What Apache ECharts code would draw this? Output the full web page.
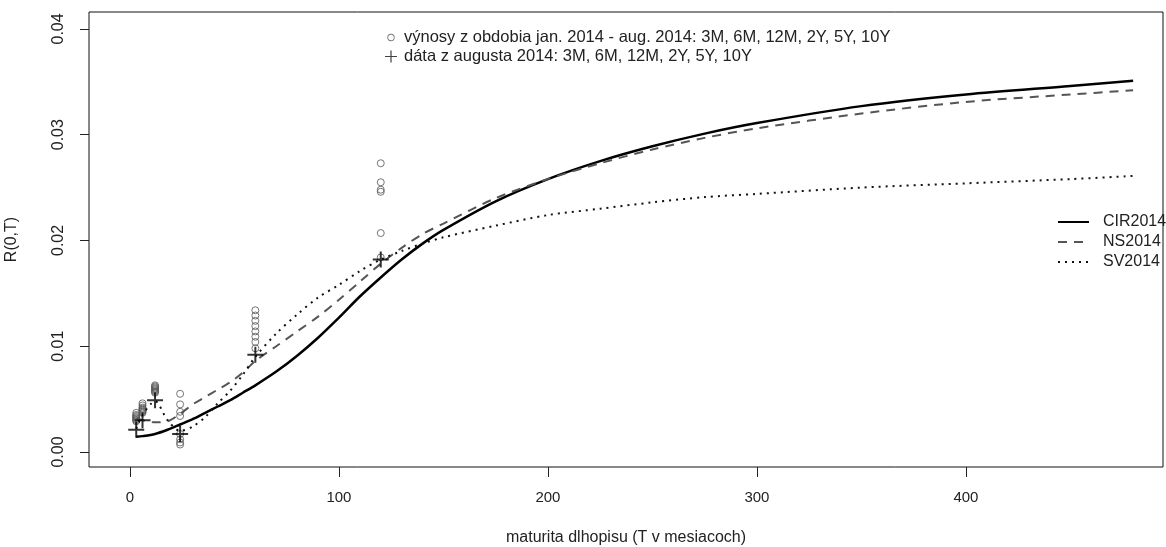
<!DOCTYPE html>
<html>
<head>
<meta charset="utf-8">
<script src="https://cdn.jsdelivr.net/npm/echarts@6/dist/echarts.min.js"></script>
<style>
  html, body { margin: 0; padding: 0; background: #fff; }
  #chart0 { width: 1166px; height: 547px; }
</style>
</head>
<body>
<div id="chart0"></div>
<script>
// maturities (months) and observed yields
var obsT = [3, 6, 12, 24, 60, 120]
var yields3M = [0.0037, 0.0035, 0.0034, 0.0033, 0.0032, 0.0031, 0.0030, 0.0029]
var yields6M = [0.0046, 0.0044, 0.0042, 0.0041, 0.0040, 0.0039, 0.0038, 0.0037]
var yields12M = [0.0063, 0.0062, 0.0061, 0.0060, 0.0059, 0.0058, 0.0057, 0.0056]
var yields2Y = [0.0055, 0.0045, 0.0038, 0.0034, 0.0017, 0.0012, 0.0009, 0.0007]
var yields5Y = [0.0134, 0.0129, 0.0124, 0.0119, 0.0114, 0.0109, 0.0104, 0.0098]
var yields10Y = [0.0273, 0.0255, 0.0248, 0.0246, 0.0207, 0.0184]
var augYields = [0.0021, 0.0030, 0.0049, 0.0017, 0.0092, 0.0182]

// fitted curves
var curveT = [3, 6, 12, 18, 24, 30, 36, 42, 48, 54, 60, 70, 80, 90, 100, 110, 120, 130, 140, 150, 175, 200, 225, 250, 275, 300, 350, 400, 450, 480]
var cir2014 = [0.00145, 0.0015, 0.0017, 0.0021, 0.0026, 0.0031, 0.0037, 0.0043, 0.0049, 0.0056, 0.0063, 0.0076, 0.0091, 0.0108, 0.0127, 0.0147, 0.0165, 0.0182, 0.0197, 0.0210, 0.0237, 0.0258, 0.0275, 0.0289, 0.0301, 0.0311, 0.0327, 0.0338, 0.0346, 0.0351]
var ns2014 = [0.0032, 0.0030, 0.0028, 0.0029, 0.0036, 0.0045, 0.0052, 0.0059, 0.0066, 0.0075, 0.0086, 0.0100, 0.0114, 0.0128, 0.0144, 0.0161, 0.0178, 0.0193, 0.0206, 0.0216, 0.0240, 0.0258, 0.0273, 0.0286, 0.0297, 0.0306, 0.0320, 0.0331, 0.0338, 0.0342]
var sv2014 = [0.0022, 0.0035, 0.0048, 0.0030, 0.0020, 0.0024, 0.0033, 0.0046, 0.0058, 0.0073, 0.0090, 0.0112, 0.0130, 0.0146, 0.0158, 0.0171, 0.0182, 0.0190, 0.0197, 0.0203, 0.0214, 0.0224, 0.0230, 0.0236, 0.0241, 0.0244, 0.0250, 0.0254, 0.0258, 0.0261]

var xTicks = [0, 100, 200, 300, 400]
var yTicks = [0, 0.01, 0.02, 0.03, 0.04]

var obsName = 'výnosy z obdobia jan. 2014 - aug. 2014: 3M, 6M, 12M, 2Y, 5Y, 10Y'
var augName = 'dáta z augusta 2014: 3M, 6M, 12M, 2Y, 5Y, 10Y'

var obsData = []
;[yields3M, yields6M, yields12M, yields2Y, yields5Y, yields10Y].forEach(function (arr, i) {
  arr.forEach(function (v) { obsData.push([obsT[i], v]) })
})
var augData = obsT.map(function (t, i) { return [t, augYields[i]] })
function pairs(vals) { return curveT.map(function (t, i) { return [t, vals[i]] }) }

var crossPath = 'path://M7,0H9V7H16V9H9V16H7V9H0V7H7Z'
// legend icons get invisible corner dots so they stay small inside the item box
var corners = 'M0,0h0.05v0.05h-0.05Z M16,16h-0.05v-0.05h0.05Z '
var ringPath = 'path://' + corners + 'M8,4.3A3.7,3.7,0,1,1,7.99,4.3Z M8,5.2A2.8,2.8,0,1,0,8.01,5.2Z'
var smallCross = 'path://' + corners + 'M7.4,2H8.6V7.4H14V8.6H8.6V14H7.4V8.6H2V7.4H7.4Z'
var font = 'Liberation Sans, Arial, sans-serif'

var chart0 = echarts.init(document.getElementById('chart0'))
var option0 = {
  animation: false,
  textStyle: { fontFamily: font, color: '#222' },
  grid: {
    left: 89, top: 12, right: 3, bottom: 80,
    outerBoundsMode: 'none',
    containLabel: false,
    show: true, borderColor: '#111', borderWidth: 1
  },
  legend: [{
    orient: 'vertical',
    left: 378,
    top: 24,
    itemGap: 2,
    itemWidth: 16,
    itemHeight: 16,
    textStyle: { fontFamily: font, fontSize: 16.5, color: '#222' },
    data: [
      { name: obsName, icon: ringPath, itemStyle: { color: '#555', borderWidth: 0 } },
      { name: augName, icon: smallCross, itemStyle: { color: '#111' } }
    ]
  }, {
    orient: 'vertical',
    left: 1052,
    top: 209,
    itemGap: 4,
    itemWidth: 31,
    itemHeight: 16,
    itemStyle: { opacity: 0 },
    textStyle: { fontFamily: font, fontSize: 16, color: '#222', padding: [0, 0, 0, 9] },
    data: ['CIR2014', 'NS2014', 'SV2014']
  }],
  xAxis: {
    type: 'value',
    min: -19.6,
    max: 494.3,
    name: 'maturita dlhopisu (T v mesiacoch)',
    nameLocation: 'middle',
    nameGap: 63,
    nameMoveOverlap: false,
    nameTextStyle: { fontFamily: font, fontSize: 16, color: '#222' },
    splitLine: { show: false },
    axisLine: { show: false, onZero: false },
    axisTick: { show: true, length: 10, customValues: xTicks, lineStyle: { color: '#222' } },
    axisLabel: { customValues: xTicks, margin: 23, fontSize: 15, color: '#222', fontFamily: font }
  },
  yAxis: {
    type: 'value',
    min: -0.00142,
    max: 0.0416,
    name: 'R(0,T)',
    nameLocation: 'middle',
    nameGap: 69,
    nameMoveOverlap: false,
    nameRotate: 90,
    nameTextStyle: { fontFamily: font, fontSize: 16, color: '#222' },
    splitLine: { show: false },
    axisLine: { show: false, onZero: false },
    axisTick: { show: true, length: 9, customValues: yTicks, lineStyle: { color: '#222' } },
    axisLabel: {
      customValues: yTicks, rotate: 90, margin: 22, fontSize: 16, color: '#222', fontFamily: font,
      formatter: function (v) { return v.toFixed(2) }
    }
  },
  series: [{
    name: 'CIR2014',
    type: 'line',
    data: pairs(cir2014),
    smooth: 0.3,
    symbol: 'none',
    lineStyle: { color: '#000', width: 2.5 },
    itemStyle: { color: '#000' },
    z: 3
  }, {
    name: 'NS2014',
    type: 'line',
    data: pairs(ns2014),
    smooth: 0.3,
    symbol: 'none',
    lineStyle: { color: '#555', width: 2, type: [9, 7] },
    itemStyle: { color: '#555' },
    z: 3
  }, {
    name: 'SV2014',
    type: 'line',
    data: pairs(sv2014),
    smooth: 0.3,
    symbol: 'none',
    lineStyle: { color: '#111', width: 2, type: [2, 5] },
    itemStyle: { color: '#111' },
    z: 3
  }, {
    name: obsName,
    type: 'scatter',
    data: obsData,
    symbol: 'circle',
    symbolSize: 7,
    itemStyle: { color: 'rgba(0,0,0,0)', borderColor: '#555', borderWidth: 1 },
    z: 2
  }, {
    name: augName,
    type: 'scatter',
    data: augData,
    symbol: crossPath,
    symbolSize: 16,
    itemStyle: { color: '#000' },
    z: 4
  }]
};
chart0.setOption(option0)
</script>
</body>
</html>
